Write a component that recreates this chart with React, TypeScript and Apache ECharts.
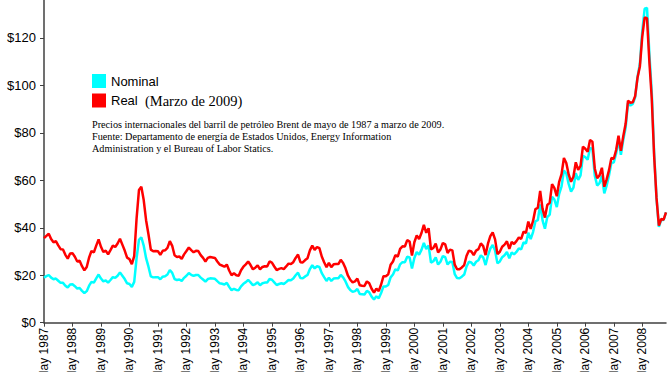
import React, { useEffect, useRef } from "react";
import * as echarts from "echarts";

// Brent crude, monthly, May 1987 - March 2009 (US$ per barrel)
const nominal: number[] = [
  19.0, 19.6, 20.1, 19.0, 18.3, 18.6, 17.7, 16.8,
  16.8, 15.6, 14.8, 16.1, 16.2, 15.4, 14.4, 14.6, 13.4, 12.5, 13.3, 15.6,
  17.2, 16.9, 18.7, 20.3, 18.6, 17.4, 17.8, 16.9, 18.0, 19.2, 18.9, 19.8,
  21.2, 19.8, 18.4, 16.6, 16.3, 15.1, 17.2, 27.2, 34.9, 36.0, 32.5, 27.2,
  23.6, 19.5, 19.1, 19.2, 19.2, 18.3, 19.4, 19.6, 20.3, 22.2, 21.0, 18.4,
  18.0, 18.2, 17.6, 18.9, 19.8, 20.9, 20.2, 19.7, 20.1, 20.1, 19.0, 18.2,
  17.3, 18.4, 18.7, 18.6, 18.5, 17.5, 16.6, 16.4, 16.1, 16.8, 15.1, 13.7,
  14.3, 13.8, 13.7, 15.3, 16.4, 17.1, 18.0, 17.0, 15.8, 16.3, 17.0, 15.8,
  16.6, 16.9, 16.9, 18.4, 18.1, 17.0, 15.9, 16.3, 16.6, 16.3, 17.1, 18.0,
  17.9, 18.6, 20.0, 21.1, 18.8, 18.7, 19.5, 20.1, 22.6, 24.2, 22.9, 23.8,
  23.5, 20.9, 19.2, 17.6, 19.0, 17.6, 18.6, 18.7, 18.7, 20.1, 19.1, 17.4,
  15.1, 13.8, 13.0, 13.3, 14.2, 12.1, 12.0, 11.9, 13.4, 12.8, 11.0, 9.8,
  11.1, 10.3, 12.5, 15.3, 15.3, 15.9, 19.1, 20.3, 22.5, 22.0, 24.6, 25.5,
  25.5, 27.8, 27.5, 22.8, 27.3, 29.8, 28.7, 30.7, 33.6, 31.0, 32.6, 25.3,
  25.9, 27.5, 24.5, 25.7, 28.1, 27.6, 24.5, 25.7, 25.6, 20.5, 18.8, 18.7,
  19.4, 20.3, 23.7, 25.7, 25.4, 24.1, 25.7, 26.3, 28.4, 27.5, 24.3, 28.3,
  31.2, 32.8, 30.4, 25.0, 25.8, 27.6, 28.4, 29.8, 27.1, 29.6, 28.8, 29.8,
  31.3, 30.9, 33.8, 33.4, 37.9, 35.2, 38.2, 42.7, 43.2, 49.8, 43.1, 39.6,
  44.5, 45.5, 53.1, 51.9, 48.7, 54.3, 57.5, 64.1, 62.9, 58.5, 55.2, 56.9,
  63.0, 60.2, 62.1, 70.3, 69.8, 68.7, 73.7, 73.2, 62.0, 57.8, 58.8, 62.0,
  54.5, 57.8, 62.1, 67.4, 67.5, 71.3, 77.2, 70.8, 77.1, 82.3, 92.5, 91.5,
  92.2, 95.0, 103.6, 109.1, 122.8, 132.3, 132.7, 113.2, 97.2, 71.6, 52.5, 40.4,
  43.4, 43.3, 46.5,
];

// Real prices (March 2009 dollars)
const real: number[] = [
  35.6, 36.6, 37.5, 35.3, 33.9, 34.4, 32.6, 31.0,
  30.9, 28.6, 27.0, 29.2, 29.3, 27.8, 25.8, 26.1, 23.8, 22.1, 23.5, 27.5,
  30.2, 29.6, 32.5, 35.1, 32.0, 29.8, 30.4, 28.8, 30.6, 32.5, 31.9, 33.4,
  35.4, 32.9, 30.4, 27.4, 26.8, 24.7, 28.1, 44.0, 55.9, 57.3, 51.7, 43.2,
  37.3, 30.8, 30.1, 30.2, 30.1, 28.6, 30.3, 30.5, 31.5, 34.4, 32.4, 28.4,
  27.7, 27.9, 26.9, 28.8, 30.2, 31.7, 30.6, 29.7, 30.3, 30.2, 28.5, 27.3,
  25.8, 27.3, 27.7, 27.5, 27.3, 25.8, 24.5, 24.1, 23.6, 24.5, 22.0, 20.0,
  20.8, 20.0, 19.8, 22.1, 23.6, 24.6, 25.8, 24.3, 22.5, 23.2, 24.2, 22.5,
  23.5, 23.8, 23.7, 25.8, 25.3, 23.7, 22.2, 22.7, 23.0, 22.6, 23.7, 24.9,
  24.7, 25.5, 27.3, 28.7, 25.5, 25.4, 26.4, 27.2, 30.5, 32.5, 30.7, 31.9,
  31.4, 27.9, 25.5, 23.4, 25.2, 23.4, 24.6, 24.7, 24.7, 26.5, 25.2, 22.9,
  19.9, 18.1, 17.0, 17.4, 18.6, 15.8, 15.6, 15.5, 17.4, 16.6, 14.3, 12.7,
  14.4, 13.3, 16.1, 19.6, 19.6, 20.4, 24.4, 25.8, 28.5, 27.8, 31.1, 32.2,
  32.1, 34.8, 34.2, 28.3, 33.9, 36.8, 35.3, 37.8, 41.2, 37.9, 39.8, 30.9,
  31.5, 33.3, 29.6, 30.9, 33.6, 33.0, 29.4, 30.8, 30.5, 24.5, 22.5, 22.5,
  23.3, 24.3, 28.2, 30.4, 30.0, 28.5, 30.4, 31.0, 33.4, 32.3, 28.5, 33.3,
  36.5, 38.1, 35.1, 28.9, 29.9, 32.0, 32.9, 34.3, 31.1, 34.0, 33.2, 34.4,
  35.9, 35.3, 38.4, 37.8, 42.6, 39.5, 42.9, 47.9, 48.4, 55.5, 48.0, 44.3,
  49.6, 50.5, 58.4, 56.7, 53.3, 59.4, 62.6, 69.4, 67.3, 62.5, 59.4, 61.5,
  67.6, 64.4, 66.1, 74.2, 73.3, 72.0, 77.0, 76.3, 65.0, 60.9, 62.1, 65.3,
  57.3, 60.4, 64.3, 69.4, 69.1, 72.8, 78.8, 72.4, 78.6, 83.8, 93.6, 92.7,
  92.9, 95.5, 103.2, 108.0, 120.6, 128.6, 128.3, 109.9, 94.5, 70.3, 52.6, 40.9,
  43.7, 43.4, 46.5,
];

const monthNames = ["Jan", "Feb", "Mar", "Apr", "May", "Jun", "Jul", "Aug", "Sep", "Oct", "Nov", "Dec"];
const startYear = 1987;
const startMonth = 4; // May
const categories: string[] = nominal.map((_, i) => {
  const m = (startMonth + i) % 12;
  const y = startYear + Math.floor((startMonth + i) / 12);
  return `${monthNames[m]} ${y}`;
});

const yTicks = [0, 20, 40, 60, 80, 100, 120];
const seriesNames = ["Nominal", "Real"];
const realSuffix = "(Marzo de 2009)";
const noteLines = [
  "Precios internacionales del barril de petróleo Brent de mayo de 1987 a marzo de 2009.",
  "Fuente: Departamento de energía de Estados Unidos, Energy Information",
  "Administration y el Bureau of Labor Statics.",
];

const SANS = "'Liberation Sans', Arial, Helvetica, sans-serif";
const SERIF = "'Liberation Serif', 'Times New Roman', serif";

export default function App() {
  const ref = useRef<HTMLDivElement>(null);

  useEffect(() => {
    if (!ref.current) return;
    const chart = echarts.init(ref.current, undefined, { renderer: "svg" });
    const tickEvery = (index: number) => index % 12 === 0;
    chart.setOption({
      animation: false,
      backgroundColor: "#ffffff",
      grid: { left: 44, right: 6, top: 0, bottom: 69.3, containLabel: false },
      legend: {
        orient: "vertical",
        left: 92,
        top: 74,
        padding: 0,
        itemWidth: 14,
        itemHeight: 14,
        itemGap: 5,
        icon: "rect",
        selectedMode: false,
        data: seriesNames,
        itemStyle: { borderWidth: 0 },
        lineStyle: { width: 0 },
        formatter: (name: string) => (name === "Real" ? `Real  {s|${realSuffix}}` : name),
        textStyle: {
          fontFamily: SANS,
          fontSize: 13,
          color: "#000",
          lineHeight: 14,
          rich: {
            s: { fontFamily: SERIF, fontSize: 14.5, color: "#000", lineHeight: 14 },
          },
        },
      },
      graphic: [
        {
          type: "text",
          left: 92,
          top: 118,
          silent: true,
          style: {
            text: noteLines.join("\n"),
            fontFamily: SERIF,
            fontSize: 10.2,
            lineHeight: 12.2,
            fill: "#000",
          },
        },
      ],
      xAxis: {
        type: "category",
        data: categories,
        boundaryGap: false,
        axisLine: { lineStyle: { color: "#404040", width: 1.5 } },
        axisTick: { interval: tickEvery, length: 4, lineStyle: { color: "#404040", width: 1 } },
        axisLabel: {
          interval: tickEvery,
          rotate: 90,
          margin: 5,
          fontFamily: SANS,
          fontSize: 12,
          color: "#000",
        },
        splitLine: { show: false },
      },
      yAxis: {
        type: "value",
        min: 0,
        max: 136,
        interval: 20,
        axisLine: { show: true, lineStyle: { color: "#404040", width: 1.5 } },
        axisTick: {
          show: true,
          length: 4,
          customValues: yTicks,
          lineStyle: { color: "#404040", width: 1 },
        },
        axisLabel: {
          customValues: yTicks,
          formatter: (v: number) => `$${v}`,
          margin: 8,
          fontFamily: SANS,
          fontSize: 13,
          color: "#000",
        },
        splitLine: { show: false },
      },
      series: [
        {
          name: seriesNames[0],
          type: "line",
          data: nominal,
          color: "#00FFFF",
          showSymbol: false,
          symbol: "none",
          lineStyle: { color: "#00FFFF", width: 2.5 },
          z: 2,
        },
        {
          name: seriesNames[1],
          type: "line",
          data: real,
          color: "#FF0000",
          showSymbol: false,
          symbol: "none",
          lineStyle: { color: "#FF0000", width: 2.5 },
          z: 3,
        },
      ],
    });
    return () => chart.dispose();
  }, []);

  return (
    <div
      style={{
        position: "fixed",
        left: 0,
        top: 0,
        width: 672,
        height: 372,
        overflow: "hidden",
        background: "#fff",
      }}
    >
      <div ref={ref} style={{ width: 672, height: 392 }} />
    </div>
  );
}
